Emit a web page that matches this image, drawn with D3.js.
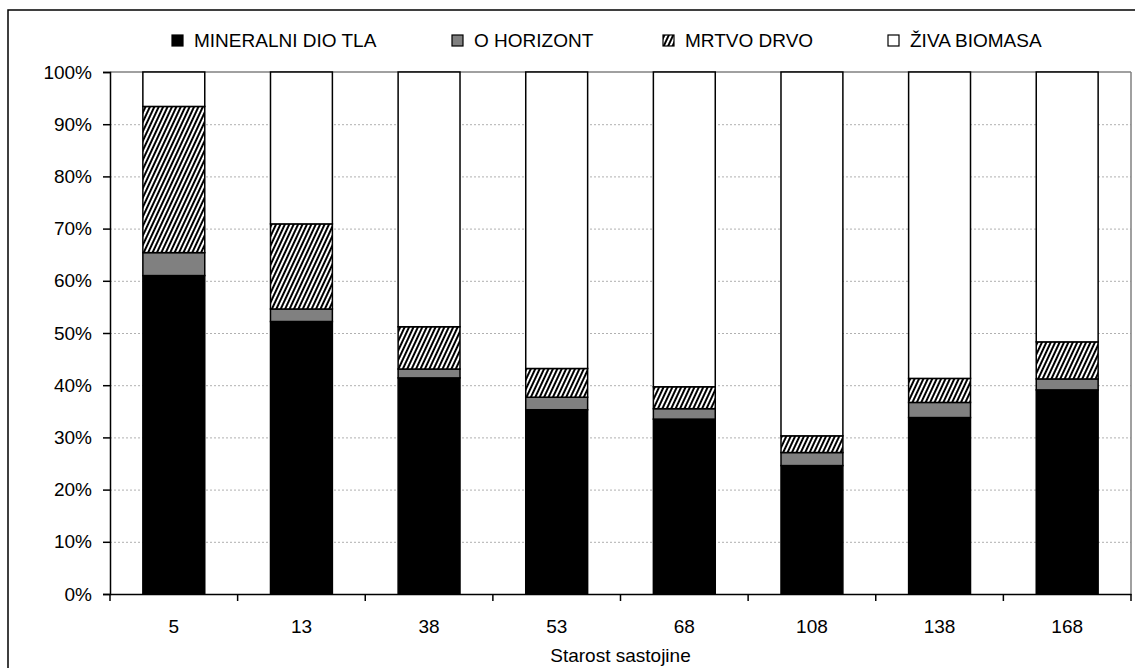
<!DOCTYPE html>
<html><head><meta charset="utf-8">
<script src="https://cdn.jsdelivr.net/npm/d3@7"></script>
<style>body{margin:0;background:#fff}svg{display:block;font-family:"Liberation Sans",Arial,sans-serif}</style>
</head><body><svg id="c" width="1135" height="668"></svg>
<script>
const categories = ["5","13","38","53","68","108","138","168"];
const seriesNames = ["MINERALNI DIO TLA","O HORIZONT","MRTVO DRVO","ŽIVA BIOMASA"];
const mineralni = [61.0, 52.2, 41.4, 35.3, 33.5, 24.6, 33.8, 39.1];
const oHorizont = [4.4, 2.4, 1.7, 2.4, 2.0, 2.5, 2.9, 2.1];
const mrtvoDrvo = [28.0, 16.3, 8.1, 5.5, 4.2, 3.2, 4.6, 7.1];
const zivaBiomasa = [6.6, 29.1, 48.8, 56.8, 60.3, 69.7, 58.7, 51.7];
const yTicks = [0,10,20,30,40,50,60,70,80,90,100];

const svg = d3.select("#c");
const m = {l:110, r:1131, t:72, b:594};
const rows = categories.map((c,i)=>({cat:c, s0:mineralni[i], s1:oHorizont[i], s2:mrtvoDrvo[i], s3:zivaBiomasa[i]}));
const stack = d3.stack().keys(["s0","s1","s2","s3"]).offset(d3.stackOffsetExpand)(rows);

const x = d3.scaleBand().domain(categories).range([m.l,m.r]).paddingInner(0.515).paddingOuter(0.2575);
const y = d3.scaleLinear().domain([0,1]).range([m.b,m.t]);

const defs = svg.append("defs");
const pat = defs.append("pattern").attr("id","hatch").attr("patternUnits","userSpaceOnUse")
  .attr("width",4).attr("height",4).attr("patternTransform","rotate(25)");
pat.append("rect").attr("width",4).attr("height",4).attr("fill","#fff");
pat.append("rect").attr("x",0).attr("width",2).attr("height",4).attr("fill","#000");
const fills = ["#000","#808080","url(#hatch)","#fff"];

// outer frame
svg.append("rect").attr("x",8).attr("y",10).attr("width",1140).attr("height",680)
  .attr("fill","none").attr("stroke","#000").attr("stroke-width",1.5);

// gridlines
svg.append("g").selectAll("line").data(yTicks.filter(t=>t>0&&t<100)).join("line")
  .attr("x1",m.l).attr("x2",m.r).attr("y1",d=>y(d/100)+0.5).attr("y2",d=>y(d/100)+0.5)
  .attr("stroke","#b0b0b0").attr("stroke-width",1).attr("stroke-dasharray","2,2");
svg.append("line").attr("x1",m.l).attr("x2",m.r).attr("y1",m.t).attr("y2",m.t).attr("stroke","#808080").attr("stroke-width",1.5);
svg.append("line").attr("x1",m.r).attr("x2",m.r).attr("y1",m.t).attr("y2",m.b).attr("stroke","#808080").attr("stroke-width",1.5);

// bars
stack.forEach((layer,k)=>{
  svg.append("g").selectAll("rect").data(layer).join("rect")
    .attr("x",d=>x(d.data.cat)).attr("width",x.bandwidth())
    .attr("y",d=>y(d[1])).attr("height",d=>y(d[0])-y(d[1]))
    .attr("fill",fills[k]).attr("stroke","#000").attr("stroke-width",1.5);
});

// y axis
const yAxis = d3.axisLeft(y).tickValues(yTicks.map(t=>t/100)).tickFormat(d=>Math.round(d*100)+"%").tickSize(7).tickPadding(11);
const gy = svg.append("g").attr("transform",`translate(${m.l},0)`).call(yAxis);
gy.select(".domain").attr("stroke","#000").attr("stroke-width",1.5);
gy.selectAll(".tick line").attr("stroke","#000").attr("stroke-width",1.5);
gy.selectAll("text").attr("font-size",19).attr("fill","#000").attr("font-family","Liberation Sans, Arial, sans-serif");

// x axis
const xAxis = d3.axisBottom(x).tickSize(0).tickPadding(26);
const gx = svg.append("g").attr("transform",`translate(0,${m.b})`).call(xAxis);
gx.select(".domain").attr("stroke","#000").attr("stroke-width",1.5);
gx.selectAll("text").attr("font-size",19).attr("fill","#000").attr("font-family","Liberation Sans, Arial, sans-serif");
gx.append("g").selectAll("line").data(d3.range(categories.length+1)).join("line")
  .attr("x1",i=>m.l+i*(m.r-m.l)/categories.length).attr("x2",i=>m.l+i*(m.r-m.l)/categories.length)
  .attr("y1",0).attr("y2",7).attr("stroke","#000").attr("stroke-width",1.5);

svg.append("text").attr("x",(m.l+m.r)/2).attr("y",662).attr("text-anchor","middle")
  .attr("font-size",19).text("Starost sastojine");

// legend
const legX = [172, 452, 663, 888];
const lg = svg.append("g");
seriesNames.forEach((n,i)=>{
  lg.append("rect").attr("x",legX[i]).attr("y",35).attr("width",11).attr("height",11)
    .attr("fill",fills[i]).attr("stroke","#000").attr("stroke-width",1.2);
  lg.append("text").attr("x",legX[i]+22).attr("y",47).attr("font-size",19).text(n);
});
</script></body></html>
